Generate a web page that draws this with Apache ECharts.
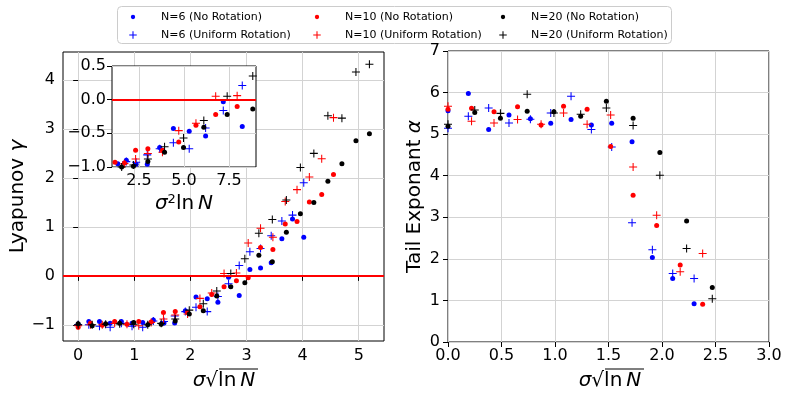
<!DOCTYPE html>
<html>
<head>
<meta charset="utf-8">
<script src="https://cdn.jsdelivr.net/npm/echarts@6/dist/echarts.min.js"></script>
<style>
  html, body { margin: 0; background: #fff; }
  #chart { width: 793px; height: 397px; }
</style>
</head>
<body>
<div id="chart"></div>
<script>
// x = sigma * sqrt(ln N), one list per N
const xN6 = [0, 0.19, 0.38, 0.57, 0.77, 0.96, 1.15, 1.34, 1.53, 1.72, 1.91, 2.10, 2.30, 2.49, 2.68, 2.87, 3.06, 3.25, 3.44, 3.63, 3.82, 4.02]
const xN10 = [0, 0.22, 0.43, 0.65, 0.87, 1.08, 1.30, 1.52, 1.73, 1.95, 2.17, 2.38, 2.60, 2.82, 3.03, 3.25, 3.47, 3.69, 3.90, 4.12, 4.34, 4.55]
const xN20 = [0, 0.25, 0.49, 0.74, 0.99, 1.24, 1.48, 1.73, 1.98, 2.23, 2.47, 2.72, 2.97, 3.22, 3.46, 3.71, 3.96, 4.20, 4.45, 4.70, 4.95, 5.19]

// Lyapunov gamma (left panel + inset)
const gamN6NR = [-0.99, -0.93, -0.93, -0.97, -0.93, -0.97, -0.95, -0.90, -0.96, -0.96, -0.71, -0.43, -0.47, -0.54, -0.03, -0.40, 0.13, 0.16, 0.27, 0.76, 1.16, 0.79]
const gamN6UR = [-1.0, -1.0, -1.03, -1.05, -0.97, -1.03, -1.05, -0.92, -0.93, -0.82, -0.73, -0.64, -0.73, -0.42, -0.16, 0.21, 0.49, 0.56, 0.82, 1.12, 1.24, 1.90]
const gamN10NR = [-1.05, -0.97, -1.01, -0.93, -0.99, -0.93, -0.94, -0.75, -0.73, -0.75, -0.63, -0.38, -0.22, -0.10, -0.04, 0.58, 0.54, 1.06, 1.11, 1.51, 1.66, 2.07]
const gamN10UR = [-1.02, -1.0, -1.0, -0.97, -0.99, -1.02, -0.95, -0.88, -0.80, -0.78, -0.46, -0.35, 0.05, 0.06, 0.67, 0.97, 0.79, 1.52, 1.76, 2.02, 2.39, 3.23]
const gamN20NR = [-0.98, -1.02, -0.98, -0.97, -0.95, -1.0, -0.99, -0.92, -0.78, -0.71, -0.41, -0.22, -0.14, 0.42, 0.29, 0.89, 1.27, 1.50, 1.93, 2.29, 2.76, 2.90]
const gamN20UR = [-1.0, -1.0, -0.99, -0.98, -0.99, -1.0, -0.97, -0.88, -0.70, -0.57, -0.31, 0.05, 0.35, 0.87, 1.15, 1.55, 2.21, 2.50, 3.27, 3.22, 4.16, 4.32]

// tail exponent alpha (right panel), first points of the same x lists
const alphaN6NR = [5.56, 5.98, 5.11, 5.46, 5.37, 5.26, 5.35, 5.22, 5.26, 4.82, 2.03, 1.53, 0.92]
const alphaN6UR = [5.14, 5.43, 5.63, 5.27, 5.36, 5.51, 5.91, 5.11, 4.69, 2.87, 2.22, 1.65, 1.53]
const alphaN10NR = [5.60, 5.62, 5.54, 5.66, 5.22, 5.67, 5.60, 4.70, 3.53, 2.80, 1.85, 0.91]
const alphaN10UR = [5.67, 5.31, 5.27, 5.35, 5.24, 5.51, 5.24, 5.46, 4.21, 3.05, 1.69, 2.13]
const alphaN20NR = [5.19, 5.52, 5.38, 5.55, 5.54, 5.43, 5.79, 5.38, 4.56, 2.91, 1.31]
const alphaN20UR = [5.24, 5.58, 5.50, 5.96, 5.51, 5.48, 5.63, 5.21, 4.01, 2.25, 1.04]

const names = ["N=6 (No Rotation)", "N=6 (Uniform Rotation)", "N=10 (No Rotation)",
  "N=10 (Uniform Rotation)", "N=20 (No Rotation)", "N=20 (Uniform Rotation)"]

const xTicksMain = [0, 1, 2, 3, 4, 5]
const yTicksMain = [-1, 0, 1, 2, 3, 4]
const xTicksInset = [2.5, 5, 7.5]

const F = "DejaVu Sans"
const plusPath = "path://M4.35,0H5.65V4.35H10V5.65H5.65V10H4.35V5.65H0V4.35H4.35Z"
// padded icons for the legend so the marker stays small
const dotIcon = "path://M0,0M10,10M5,3.2A1.8,1.8,0,1,1,5,6.8A1.8,1.8,0,1,1,5,3.2Z"
const plusIcon = "path://M-3,-3M13,13M4.3,0H5.7V4.3H10V5.7H5.7V10H4.3V5.7H0V4.3H4.3Z"

const minus = (s) => String(s).replace("-", "\u2212")

const pts = (xs, ys, sq) => ys.map((y, i) => [sq ? xs[i] * xs[i] : xs[i], y])

const mk = (name, color, plus, data, ax) => ({
  name: name,
  type: "scatter",
  xAxisIndex: ax,
  yAxisIndex: ax,
  data: data,
  symbol: plus ? plusPath : "circle",
  symbolSize: plus ? 8 : 5,
  itemStyle: { color: color, opacity: 1 },
  z: ax === 2 ? 8 : 2,
  silent: true,
})

const axisCommon = (extra) => Object.assign({
  type: "value",
  axisLine: { show: false },
  axisTick: { show: true, length: 5, lineStyle: { color: "#000", width: 1 } },
  axisLabel: { fontSize: 16, color: "#000", fontFamily: F },
  splitLine: { show: true, lineStyle: { color: "#d3d3d3", width: 1 } },
}, extra)

const series = []
const sets = [
  [xN6, gamN6NR, alphaN6NR, "#0000ff", false],
  [xN6, gamN6UR, alphaN6UR, "#0000ff", true],
  [xN10, gamN10NR, alphaN10NR, "#ff0000", false],
  [xN10, gamN10UR, alphaN10UR, "#ff0000", true],
  [xN20, gamN20NR, alphaN20NR, "#000000", false],
  [xN20, gamN20UR, alphaN20UR, "#000000", true],
]
sets.forEach((s, i) => {
  series.push(mk(names[i], s[3], s[4], pts(s[0], s[1]), 0))
  series.push(mk(names[i], s[3], s[4], pts(s[0], s[2]), 1))
  series.push(mk(names[i], s[3], s[4], pts(s[0], s[1], true), 2))
})

// red zero lines and inset grid lines
series.push({
  type: "scatter", xAxisIndex: 0, yAxisIndex: 0, data: [], silent: true,
  markLine: {
    silent: true, symbol: "none", z: 3, label: { show: false }, animation: false,
    lineStyle: { color: "#ff0000", width: 2, type: "solid" },
    data: [{ yAxis: 0 }],
  },
})
series.push({
  type: "scatter", xAxisIndex: 2, yAxisIndex: 2, data: [], silent: true, z: 7,
  markLine: {
    silent: true, symbol: "none", z: 7, label: { show: false }, animation: false,
    lineStyle: { color: "#d3d3d3", width: 1, type: "solid" },
    data: xTicksInset.map((v) => ({ xAxis: v })),
  },
})
series.push({
  type: "scatter", xAxisIndex: 2, yAxisIndex: 2, data: [], silent: true, z: 9,
  markLine: {
    silent: true, symbol: "none", z: 9, label: { show: false }, animation: false,
    lineStyle: { color: "#ff0000", width: 2, type: "solid" },
    data: [{ yAxis: 0 }],
  },
})

const legendCol = (left, items) => ({
  orient: "vertical",
  align: "left",
  left: left,
  top: 11,
  padding: 0,
  itemGap: 6,
  itemWidth: 30,
  itemHeight: 12,
  selectedMode: false,
  textStyle: { fontSize: 11, color: "#000", fontFamily: F, lineHeight: 12, padding: [0, 0, 0, 8] },
  data: items,
})

const xName = (cx) => ({
  type: "group",
  children: [
    {
      type: "text", x: cx, y: 381,
      style: {
        text: "{i|σ}√ln\u2009{i|N}", fill: "#000", fontSize: 20, fontFamily: F,
        align: "center", verticalAlign: "middle",
        rich: { i: { fontStyle: "italic", fontSize: 20, fontFamily: F } },
      },
    },
    {
      type: "line", shape: { x1: cx - 5, y1: 369, x2: cx + 34, y2: 369 },
      style: { stroke: "#000", lineWidth: 1.2 },
    },
  ],
})

const option = {
  animation: false,
  backgroundColor: "#fff",
  textStyle: { fontFamily: F },
  legend: [
    legendCol(127, [{ name: names[0], icon: dotIcon }, { name: names[1], icon: plusIcon }]),
    legendCol(311, [{ name: names[2], icon: dotIcon }, { name: names[3], icon: plusIcon }]),
    legendCol(497, [{ name: names[4], icon: dotIcon }, { name: names[5], icon: plusIcon }]),
  ],
  grid: [
    { left: 63, top: 52, width: 321, height: 289, show: true, borderColor: "#000", borderWidth: 1 },
    { left: 448, top: 51, width: 321, height: 291, show: true, borderColor: "#000", borderWidth: 1 },
    { left: 112, top: 66, width: 144, height: 101, show: true, borderColor: "#000", borderWidth: 1,
      backgroundColor: "#fff", z: 5 },
  ],
  xAxis: [
    axisCommon({
      gridIndex: 0, min: -0.27, max: 5.45,
      axisTick: { show: true, length: 5, lineStyle: { color: "#000" }, customValues: xTicksMain },
      axisLabel: { fontSize: 16, color: "#000", fontFamily: F, margin: 7, customValues: xTicksMain },
    }),
    axisCommon({
      gridIndex: 1, min: 0, max: 3, interval: 0.5,
      axisLabel: { fontSize: 16, color: "#000", fontFamily: F, margin: 6, formatter: (v) => v.toFixed(1) },
    }),
    axisCommon({
      gridIndex: 2, min: 1, max: 9, z: 6,
      axisTick: { show: true, length: 5, lineStyle: { color: "#000" }, customValues: xTicksInset },
      axisLabel: { fontSize: 16, color: "#000", fontFamily: F, margin: 6, customValues: xTicksInset,
        formatter: (v) => v.toFixed(1) },
      splitLine: { show: false },
      name: "{i|σ}{s|2}ln\u2009{i|N}",
      nameLocation: "middle",
      nameGap: 26,
      nameTextStyle: {
        fontSize: 20, color: "#000", fontFamily: F,
        rich: { i: { fontStyle: "italic", fontSize: 20 }, s: { fontSize: 13, padding: [0, 0, 9, 0] } },
      },
    }),
  ],
  yAxis: [
    axisCommon({
      gridIndex: 0, min: -1.33, max: 4.57,
      axisTick: { show: true, length: 5, lineStyle: { color: "#000" }, customValues: yTicksMain },
      axisLabel: { fontSize: 16, color: "#000", fontFamily: F, margin: 8, customValues: yTicksMain,
        formatter: (v) => minus(v) },
      name: "Lyapunov {i|γ}",
      nameLocation: "middle",
      nameRotate: 90,
      nameGap: 33,
      nameTextStyle: { fontSize: 20, color: "#000", fontFamily: F, rich: { i: { fontStyle: "italic", fontSize: 20 } } },
    }),
    axisCommon({
      gridIndex: 1, min: 0, max: 7, interval: 1,
      axisLabel: { fontSize: 16, color: "#000", fontFamily: F, margin: 8 },
      name: "Tail Exponant {i|α}",
      nameLocation: "middle",
      nameRotate: 90,
      nameGap: 23,
      nameTextStyle: { fontSize: 20, color: "#000", fontFamily: F, rich: { i: { fontStyle: "italic", fontSize: 20 } } },
    }),
    axisCommon({
      gridIndex: 2, min: -1, max: 0.5, interval: 0.5, z: 6,
      axisLabel: { fontSize: 16, color: "#000", fontFamily: F, margin: 6, formatter: (v) => minus(v.toFixed(1)) },
    }),
  ],
  graphic: [
    {
      type: "rect", left: 117, top: 6, z: 0,
      shape: { width: 554, height: 37, r: 4 },
      style: { fill: "#fff", stroke: "#cccccc", lineWidth: 1 },
    },
    xName(224),
    xName(610),
  ],
  series: series,
}

const chart = echarts.init(document.getElementById("chart"))
chart.setOption(option)
window.addEventListener("resize", () => {
  chart.resize()
})
</script>
</body>
</html>
